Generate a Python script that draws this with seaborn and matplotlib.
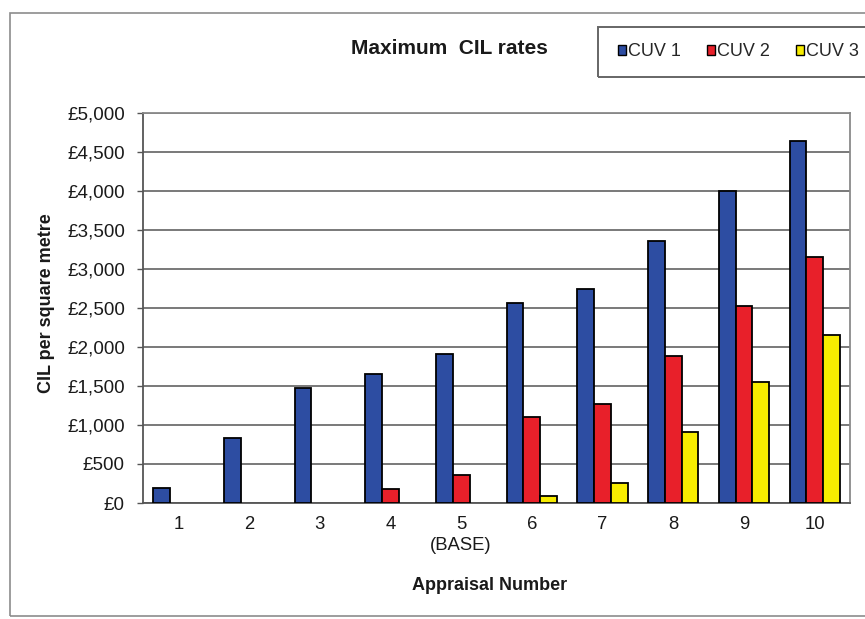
import numpy as np
import pandas as pd
import matplotlib
matplotlib.use("Agg")
import matplotlib.pyplot as plt
from matplotlib.patches import Rectangle, Patch
import seaborn as sns

# Appraisal numbers and the maximum CIL rate (GBP per square metre) for each CUV
appraisals = ["1", "2", "3", "4", "5", "6", "7", "8", "9", "10"]
tick_labels = ["1", "2", "3", "4", "5\n(BASE)", "6", "7", "8", "9", "10"]
cuv1 = [190, 830, 1470, 1650, 1910, 2570, 2740, 3360, 4000, 4640]
cuv2 = [np.nan, np.nan, np.nan, 180, 360, 1100, 1270, 1890, 2530, 3150]
cuv3 = [np.nan, np.nan, np.nan, np.nan, np.nan, 90, 255, 910, 1545, 2160]
series_names = ["CUV 1", "CUV 2", "CUV 3"]
colors = ["#2D4DA2", "#E8202A", "#F7EC00"]
y_ticks = list(range(0, 5001, 500))

df = pd.DataFrame({
    "Appraisal": appraisals * 3,
    "Rate": cuv1 + cuv2 + cuv3,
    "Series": [s for s in series_names for _ in appraisals],
})

sns.set_style("white")
plt.rcParams["font.family"] = ["Liberation Sans", "DejaVu Sans"]

W, H = 865, 619
fig = plt.figure(figsize=(W / 100, H / 100), dpi=100)
ax = fig.add_axes([143 / W, (H - 503) / H, 707 / W, 390 / H])

sns.barplot(data=df, x="Appraisal", y="Rate", hue="Series", order=appraisals,
            hue_order=series_names, palette=colors, width=0.71, gap=0,
            errorbar=None, edgecolor="black", linewidth=1.3, saturation=1,
            legend=False, ax=ax, zorder=3)

ax.set_xlim(-0.5, len(appraisals) - 0.5)
ax.set_ylim(0, 5000)
ax.set_yticks(y_ticks)
ax.set_yticklabels([f"£{v:,}" for v in y_ticks], fontsize=13.6, color="#1a1a1a")
ax.set_xticks(range(len(appraisals)))
ax.set_xticklabels(tick_labels, fontsize=13.3, color="#1a1a1a", linespacing=1.3)
ax.set_xticks(np.arange(-0.5, len(appraisals), 1.0), minor=True)
ax.tick_params(axis="x", which="major", length=0, pad=9.5)
ax.tick_params(axis="x", which="minor", length=4.5, width=1, color="#555555", direction="out")
ax.tick_params(axis="y", which="major", length=4.5, width=1, color="#555555", direction="out", pad=8.5, left=True)

ax.grid(axis="y", color="#6e6e6e", linewidth=1.3, zorder=0)
ax.set_axisbelow(True)
for name, sp in ax.spines.items():
    sp.set_visible(True)
    sp.set_linewidth(1.3)
    sp.set_color("#555555" if name in ("left", "bottom") else "#8a8a8a")

ax.set_xlabel("Appraisal Number", fontsize=13, fontweight="bold", color="#1a1a1a")
ax.xaxis.set_label_coords((490 - 143) / 707, (503 - 586) / 390)
ax.xaxis.label.set_verticalalignment("center")
ax.set_ylabel("CIL per square metre", fontsize=13, fontweight="bold", color="#1a1a1a")
ax.yaxis.set_label_coords((46.5 - 143) / 707, (503 - 303) / 390)
ax.yaxis.label.set_verticalalignment("center")

fig.text(449 / W, 1 - 48 / H, "Maximum  CIL rates", fontsize=15, fontweight="bold",
         ha="center", va="center", color="#1a1a1a")

# Outer chart frame and legend box
fig.patches.append(Rectangle((10 / W, 1 - 616 / H), 870 / W, 603 / H,
                             transform=fig.transFigure, fill=False,
                             edgecolor="#8c8c8c", linewidth=1.2))
fig.patches.append(Rectangle((598 / W, 1 - 77 / H), 290 / W, 50 / H,
                             transform=fig.transFigure, fill=False,
                             edgecolor="#666666", linewidth=1.4))

handles = [Patch(facecolor=c, edgecolor="black", linewidth=1.0) for c in colors]
fig.legend(handles, series_names, ncol=3, loc="center left",
           bbox_to_anchor=(618 / W, 1 - 52 / H), frameon=False,
           handlelength=0.44, handleheight=0.44, handletextpad=0.12,
           columnspacing=1.45, borderpad=0, borderaxespad=0,
           prop={"size": 13})

fig.savefig("out.png", dpi=100)
